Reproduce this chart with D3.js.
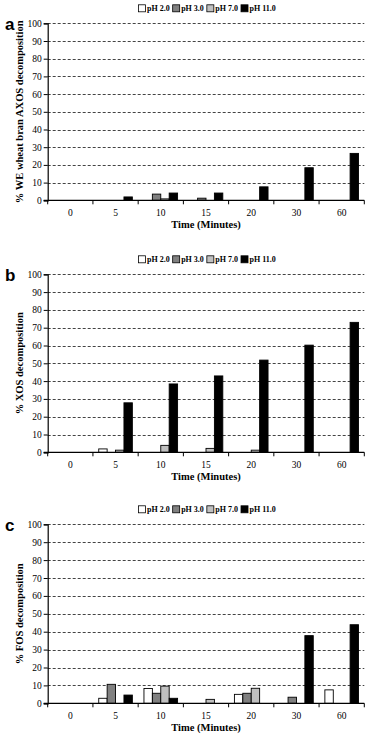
<!DOCTYPE html>
<html><head><meta charset="utf-8">
<script src="https://cdn.jsdelivr.net/npm/d3@7"></script>
<style>body{margin:0;background:#fff}svg{display:block}</style>
</head><body>
<script>
const categories = ["0","5","10","15","20","30","60"];
const seriesNames = ["pH 2.0","pH 3.0","pH 7.0","pH 11.0"];
const seriesColors = ["#ffffff","#808080","#c0c0c0","#000000"];
const yTicks = [0,10,20,30,40,50,60,70,80,90,100];

const aPH2  = [0,0,0,0,0,0,0];
const aPH3  = [0,0,3.5,1.2,0,0,0];
const aPH7  = [0,0,0.8,0,0,0,0];
const aPH11 = [0,1.9,4.1,4.1,7.6,18.4,26.5];

const bPH2  = [0,1.9,0,0,0,0,0];
const bPH3  = [0,0,0,0,0,0,0];
const bPH7  = [0,1.2,3.9,2.2,1.2,0,0];
const bPH11 = [0,27.8,38.4,42.9,51.8,60.2,73.0];

const cPH2  = [0,2.8,8.3,0,5.0,0,7.5];
const cPH3  = [0,10.6,5.6,0,5.6,3.4,0];
const cPH7  = [0,0,9.6,2.2,8.4,0,0];
const cPH11 = [0,4.6,2.8,0,0,37.8,43.9];

const panels = [
  {letter:"a", ylabel:"% WE wheat bran AXOS decomposition", series:[aPH2,aPH3,aPH7,aPH11], top:23.3, bottom:200.3},
  {letter:"b", ylabel:"% XOS decomposition", series:[bPH2,bPH3,bPH7,bPH11], top:274.3, bottom:452.3},
  {letter:"c", ylabel:"% FOS decomposition", series:[cPH2,cPH3,cPH7,cPH11], top:524.3, bottom:703.3}
];

const W = 379, H = 737;
const serif = "'Liberation Serif','Times New Roman',serif";
const svg = d3.select("body").append("svg").attr("width", W).attr("height", H);

const x0 = d3.scaleBand().domain(categories).range([47.7, 364.3]).padding(0);
const x1 = d3.scaleBand().domain(seriesNames).range([0, x0.bandwidth()]).paddingInner(0).paddingOuter(0.69);

panels.forEach(p => {
  const g = svg.append("g");
  const y = d3.scaleLinear().domain([0,100]).range([p.bottom, p.top]);
  const xl = x0.range()[0], xr = x0.range()[1];

  // gridlines
  g.selectAll("line.grid").data(yTicks.filter(t => t > 0)).enter().append("line")
    .attr("x1", xl).attr("x2", xr)
    .attr("y1", d => Math.round(y(d)) + 0.5).attr("y2", d => Math.round(y(d)) + 0.5)
    .attr("stroke", "#444").attr("stroke-width", 1).attr("stroke-dasharray", "3,2");

  // bars
  const rows = [];
  p.series.forEach((vals, si) => vals.forEach((v, ci) => { if (v > 0) rows.push({s: seriesNames[si], si, c: categories[ci], v}); }));
  g.selectAll("rect.bar").data(rows).enter().append("rect")
    .attr("x", d => x0(d.c) + x1(d.s))
    .attr("y", d => y(d.v))
    .attr("width", x1.bandwidth())
    .attr("height", d => y(0) - y(d.v))
    .attr("fill", d => seriesColors[d.si])
    .attr("stroke", "#000").attr("stroke-width", 0.9);

  // y axis
  const yAxis = d3.axisLeft(y).tickValues(yTicks).tickSize(4).tickPadding(2).tickFormat(d3.format("d"));
  const ya = g.append("g").attr("transform", `translate(${xl},0)`).call(yAxis);
  ya.select(".domain").attr("stroke", "#000").attr("stroke-width", 1.2);
  ya.selectAll(".tick line").attr("stroke", "#000");
  ya.selectAll(".tick text").attr("font-family", serif).attr("font-size", 9.5).attr("fill", "#000");

  // x axis (ticks at category boundaries)
  g.append("line").attr("x1", xl - 4).attr("x2", xr).attr("y1", y(0)).attr("y2", y(0))
    .attr("stroke", "#000").attr("stroke-width", 1.2);
  const bounds = categories.map(c => x0(c)).concat([xr]);
  g.selectAll("line.xt").data(bounds).enter().append("line")
    .attr("x1", d => d).attr("x2", d => d).attr("y1", y(0)).attr("y2", y(0) + 4)
    .attr("stroke", "#000").attr("stroke-width", 1);
  g.selectAll("text.xl").data(categories).enter().append("text")
    .attr("x", d => x0(d) + x0.bandwidth()/2).attr("y", y(0) + 15.5)
    .attr("text-anchor", "middle").attr("font-family", serif).attr("font-size", 9.5)
    .text(d => d);
  g.append("text").attr("x", (xl + xr)/2).attr("y", y(0) + 28)
    .attr("text-anchor", "middle").attr("font-family", serif).attr("font-size", 10.5).attr("font-weight", "bold")
    .text("Time (Minutes)");

  // y label
  g.append("text").attr("transform", `translate(23,${(p.top + p.bottom)/2}) rotate(-90)`)
    .attr("text-anchor", "middle").attr("font-family", serif).attr("font-size", 10.5).attr("font-weight", "bold")
    .text(p.ylabel);

  // panel letter
  g.append("text").attr("x", 5).attr("y", p.top + 6.5)
    .attr("font-family", "'Liberation Sans',Arial,sans-serif").attr("font-size", 17).attr("font-weight", "bold")
    .text(p.letter);

  // legend
  const lg = g.append("g").attr("transform", `translate(138.5,${p.top - 15})`);
  let cx = 0;
  seriesNames.forEach((s, i) => {
    lg.append("rect").attr("x", cx).attr("y", -3.5).attr("width", 7).attr("height", 7)
      .attr("fill", seriesColors[i]).attr("stroke", "#000").attr("stroke-width", 0.8);
    const t = lg.append("text").attr("x", cx + 8.5).attr("y", 3)
      .attr("font-family", serif).attr("font-size", 8).attr("font-weight", "bold").text(s);
    cx += 8.5 + t.node().getComputedTextLength() + 3;
  });
});
</script>
</body></html>
